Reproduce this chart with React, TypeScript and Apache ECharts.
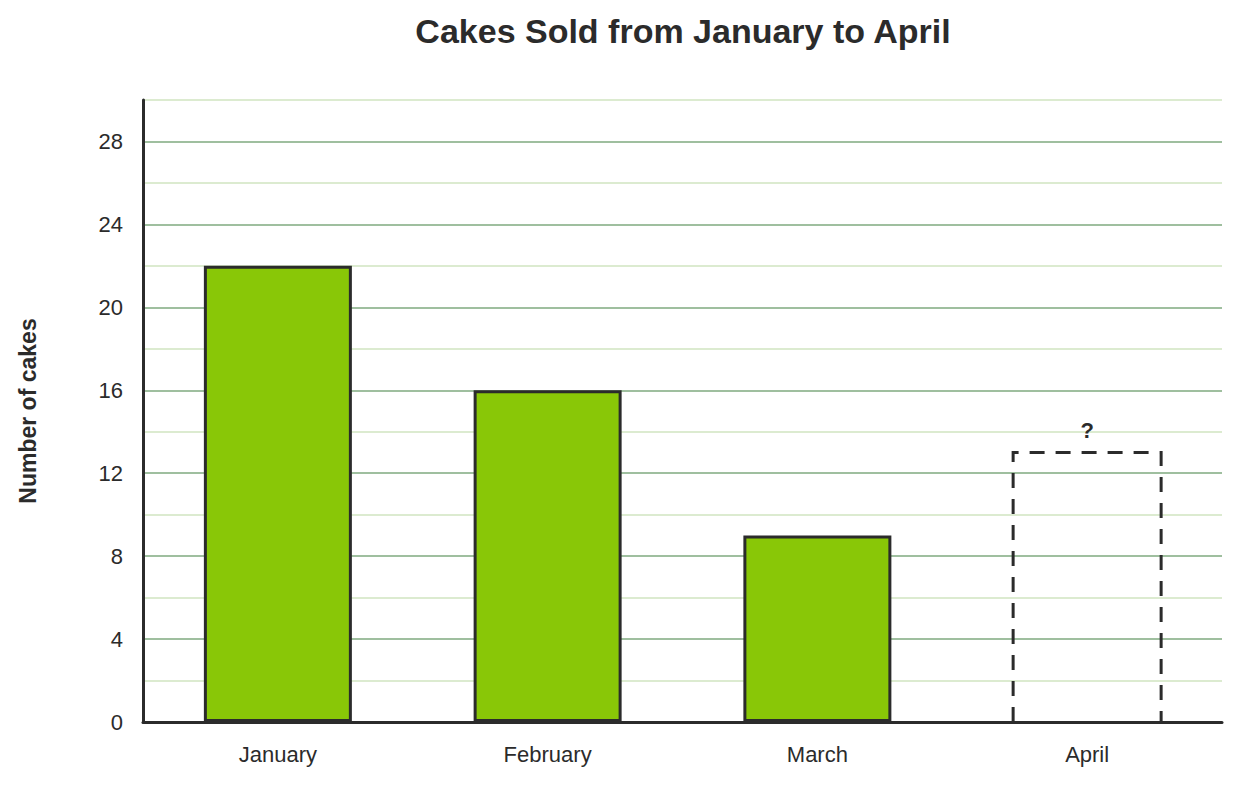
import React, { useEffect, useRef } from "react";
import * as echarts from "echarts";

const categories = ["January", "February", "March", "April"];
const knownValues = [22, 16, 9];
const unknownValue = 13;
const unknownLabel = "?";
const yLabelValues = [0, 4, 8, 12, 16, 20, 24, 28];

export default function App() {
  const ref = useRef<HTMLDivElement>(null);
  useEffect(() => {
    document.body.style.margin = "0";
    const chart = echarts.init(ref.current!, null, { renderer: "svg" });
    const font = "'Liberation Sans', Arial, sans-serif";
    const barWidth = 148;
    const unknownIndex = knownValues.length;
    chart.setOption({
      animation: false,
      title: {
        text: "Cakes Sold from January to April",
        left: 678,
        top: 9,
        textAlign: "center",
        textStyle: { fontSize: 34, fontWeight: "bold", color: "#2b2b2b", fontFamily: font },
      },
      grid: { left: 143, right: 19, top: 100, bottom: 64 },
      xAxis: {
        type: "category",
        data: categories,
        z: 5,
        axisLine: { lineStyle: { color: "#2b2b2b", width: 3 } },
        axisTick: { show: false },
        axisLabel: { fontSize: 22, color: "#2b2b2b", margin: 21, fontFamily: font },
      },
      yAxis: {
        type: "value",
        min: 0,
        max: 30,
        interval: 2,
        name: "Number of cakes",
        nameLocation: "middle",
        nameGap: 104,
        nameTextStyle: { fontSize: 23, fontWeight: "bold", color: "#2b2b2b", fontFamily: font },
        axisLine: { show: true, lineStyle: { color: "#2b2b2b", width: 3 } },
        axisTick: { show: false },
        axisLabel: {
          fontSize: 22,
          color: "#2b2b2b",
          margin: 20,
          fontFamily: font,
          formatter: (v: number) => (yLabelValues.includes(v) ? String(v) : ""),
        },
        splitLine: {
          show: true,
          lineStyle: { color: ["#9fbf9f", "#dcebd0"], width: 2 },
        },
      },
      series: [
        {
          type: "bar",
          data: knownValues,
          barWidth,
          itemStyle: { color: "#89c707", borderColor: "#2b2b2b", borderWidth: 3 },
        },
        {
          type: "custom",
          data: [[unknownIndex, unknownValue]],
          z: 3,
          renderItem: (params: any, api: any) => {
            const top = api.coord([api.value(0), api.value(1)]);
            const base = api.coord([api.value(0), 0]);
            const x0 = top[0] - barWidth / 2;
            const x1 = top[0] + barWidth / 2;
            return {
              type: "group",
              children: [
                {
                  type: "polyline",
                  shape: {
                    points: [
                      [x0, base[1]],
                      [x0, top[1]],
                      [x1, top[1]],
                      [x1, base[1]],
                    ],
                  },
                  style: {
                    fill: "none",
                    stroke: "#2b2b2b",
                    lineWidth: 3,
                    lineDash: [15, 11],
                  },
                },
                {
                  type: "text",
                  x: top[0],
                  y: top[1] - 11,
                  style: {
                    text: unknownLabel,
                    fontSize: 22,
                    fontWeight: "bold",
                    fill: "#2b2b2b",
                    fontFamily: font,
                    align: "center",
                    verticalAlign: "bottom",
                  },
                },
              ],
            };
          },
        },
      ],
    });
    return () => chart.dispose();
  }, []);
  return <div ref={ref} style={{ width: 1241, height: 786 }} />;
}
